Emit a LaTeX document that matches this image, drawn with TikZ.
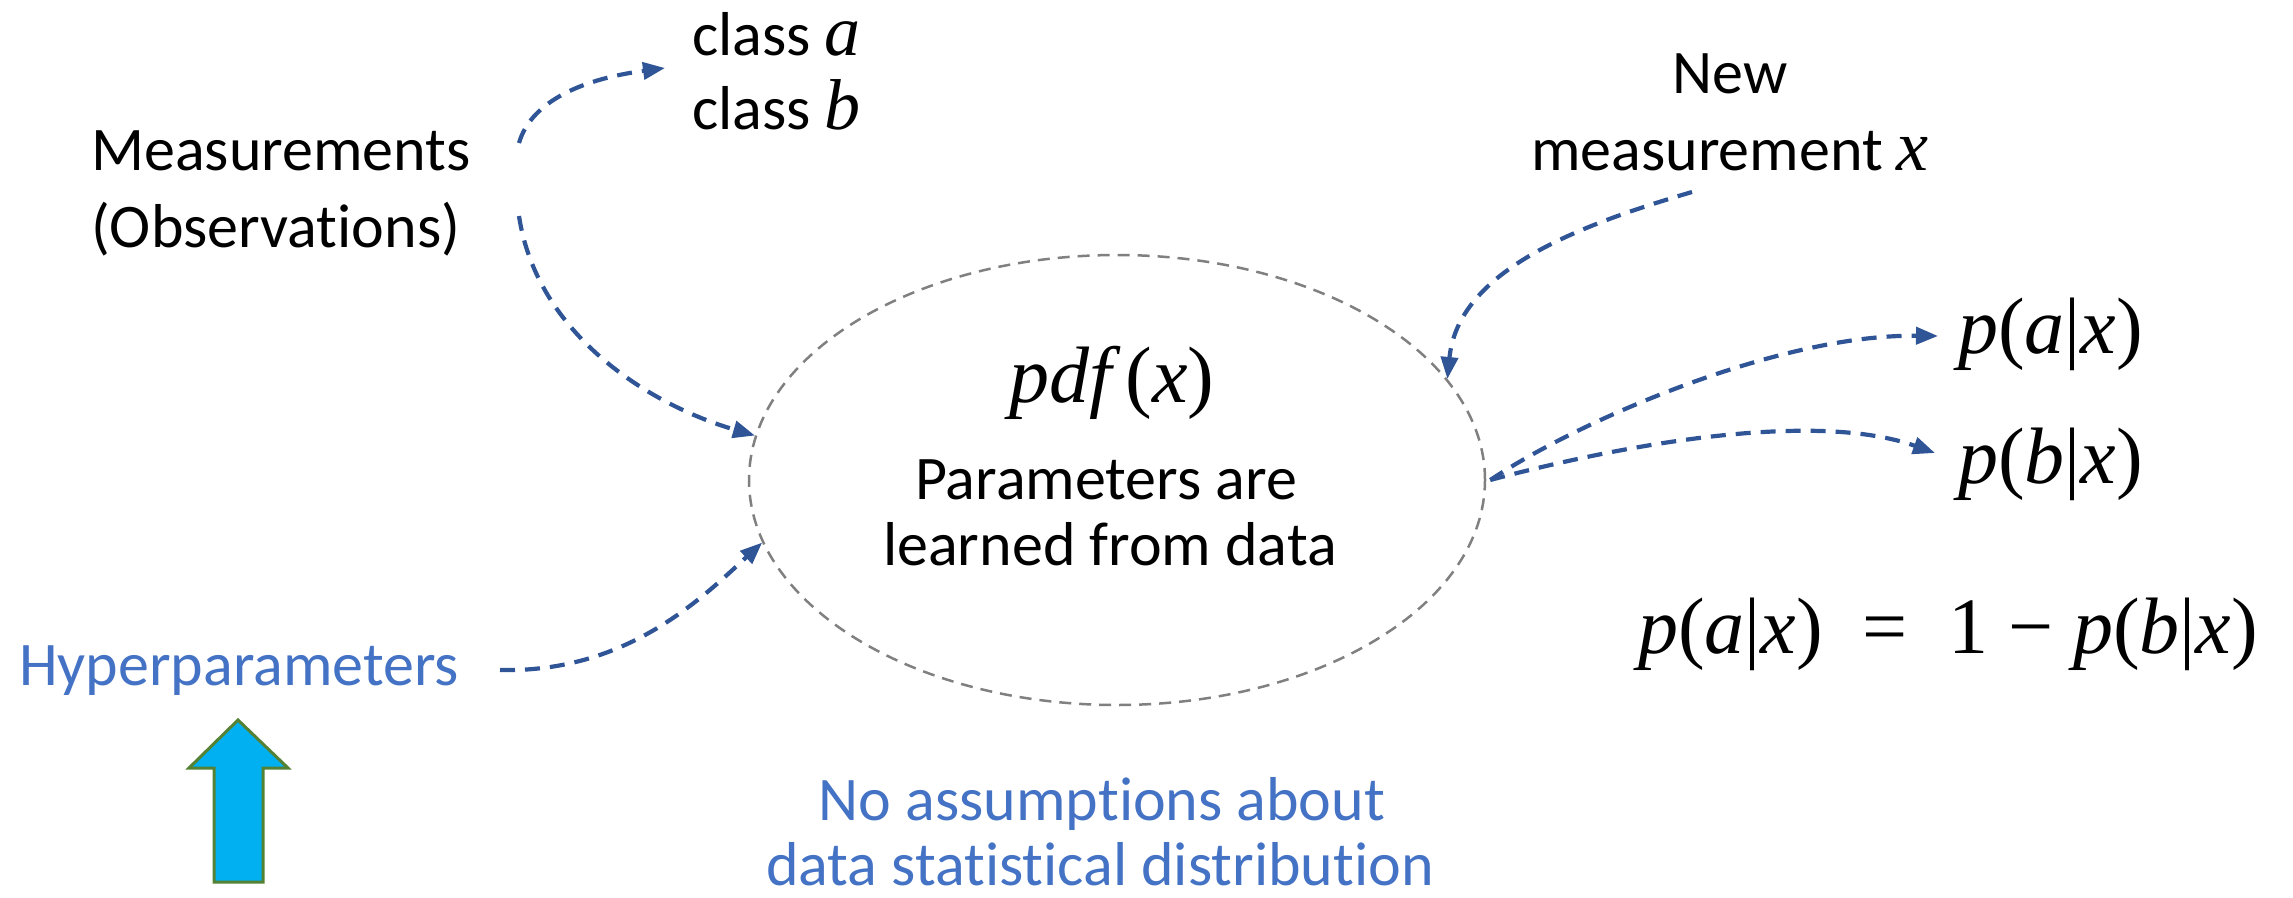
\documentclass[tikz,border=0pt]{standalone}
\usepackage{fontspec}
\setmainfont{Carlito}[Ligatures=NoCommon]
\newfontfamily\mfont{Liberation Serif}
\newcommand{\vv}[1]{{\itshape #1}}
\usetikzlibrary{arrows.meta,shapes.geometric}
\definecolor{arrowblue}{RGB}{47,85,151}
\definecolor{textblue}{RGB}{68,114,196}
\definecolor{fillcyan}{RGB}{0,176,240}
\definecolor{edgegreen}{RGB}{84,130,53}
\definecolor{ringgray}{RGB}{128,128,128}

\begin{document}
\begin{tikzpicture}[x=1pt,y=-1pt,
  lbl/.style={inner sep=0pt, font=\fontsize{62}{76}\selectfont},
  mlbl/.style={inner sep=0pt, font=\fontsize{80}{90}\selectfont\mfont},
  bluelbl/.style={lbl, text=textblue},
  conn/.style={draw=arrowblue, line width=4.2pt, dash pattern=on 15pt off 10pt,
    -{Triangle[length=22pt,width=17pt]}},
  ring/.style={ellipse, draw=ringgray, line width=2.5pt, dash pattern=on 12pt off 8pt,
    minimum width=736pt, minimum height=450pt, inner sep=0pt},
]
\useasboundingbox (0,0) rectangle (2293,897);

% central density model
\node[ring] (ell) at (1117,480) {};
\node[mlbl] (pdf) at (1112,383) {\vv{pdf}\,(\vv{x})};
\node[lbl, anchor=base] (par1) at (1106,499) {Parameters are};
\node[lbl, anchor=base] (par2) at (1110,565) {learned from data};

% inputs on the left
\node[lbl, anchor=base west] (meas) at (91,170) {Measurements};
\node[lbl, anchor=base west] (obs) at (91,247) {(Observations)};
\node[lbl, anchor=base west] (clsa) at (692,55) {class {\fontsize{72}{76}\mfont\vv{a}}};
\node[lbl, anchor=base west] (clsb) at (692,129) {class {\fontsize{72}{76}\mfont\vv{b}}};
\node[bluelbl, anchor=base west] (hyp) at (19,685) {Hyperparameters};

% remark below the model
\node[bluelbl, anchor=base] (rem1) at (1102,820) {No assumptions about};
\node[bluelbl, anchor=base] (rem2) at (1100,885) {data statistical distribution};

% new sample and posteriors on the right
\node[lbl, anchor=base] (new1) at (1730,93) {New};
\node[lbl, anchor=base] (new2) at (1730,170) {measurement {\fontsize{72}{76}\mfont\vv{x}}};
\node[mlbl, anchor=west] (pa) at (1958,334) {\vv{p}(\vv{a}|\vv{x})};
\node[mlbl, anchor=west] (pb) at (1958,464) {\vv{p}(\vv{b}|\vv{x})};
\node[mlbl] (eq) at (1948,634) {\vv{p}(\vv{a}|\vv{x})\ \ =\ \ 1 −\ \vv{p}(\vv{b}|\vv{x})};

% connector end points
\coordinate (m1) at (519,143);
\coordinate (m2) at (519,216);
\coordinate (ca) at (665,68);
\coordinate (h1) at (500,670);
\coordinate (n1) at (1692,192);
\coordinate (e1) at ([xshift=4pt]ell.east);
\coordinate (ta) at (1938,336);
\coordinate (tb) at (1935,453);

\draw[conn] (m1) .. controls (530,105) and (575,80) .. (ca);
\draw[conn] (m2) .. controls (537,335) and (650,405) .. (ell.173);
\draw[conn] (h1) .. controls (625,673) and (700,600) .. (ell.190);
\draw[conn] (n1) .. controls (1580,225) and (1458,270) .. (ell.17);
\draw[conn] (e1) .. controls (1580,420) and (1780,334) .. (ta);
\draw[conn] (e1) .. controls (1640,440) and (1820,412) .. (tb);

% large upward block arrow under the hyperparameters
\draw[fill=fillcyan, draw=edgegreen, line width=3pt]
  (238,720) -- (288,768) -- (263,768) -- (263,882) -- (214,882)
  -- (214,768) -- (189,768) -- cycle;
\end{tikzpicture}
\end{document}
